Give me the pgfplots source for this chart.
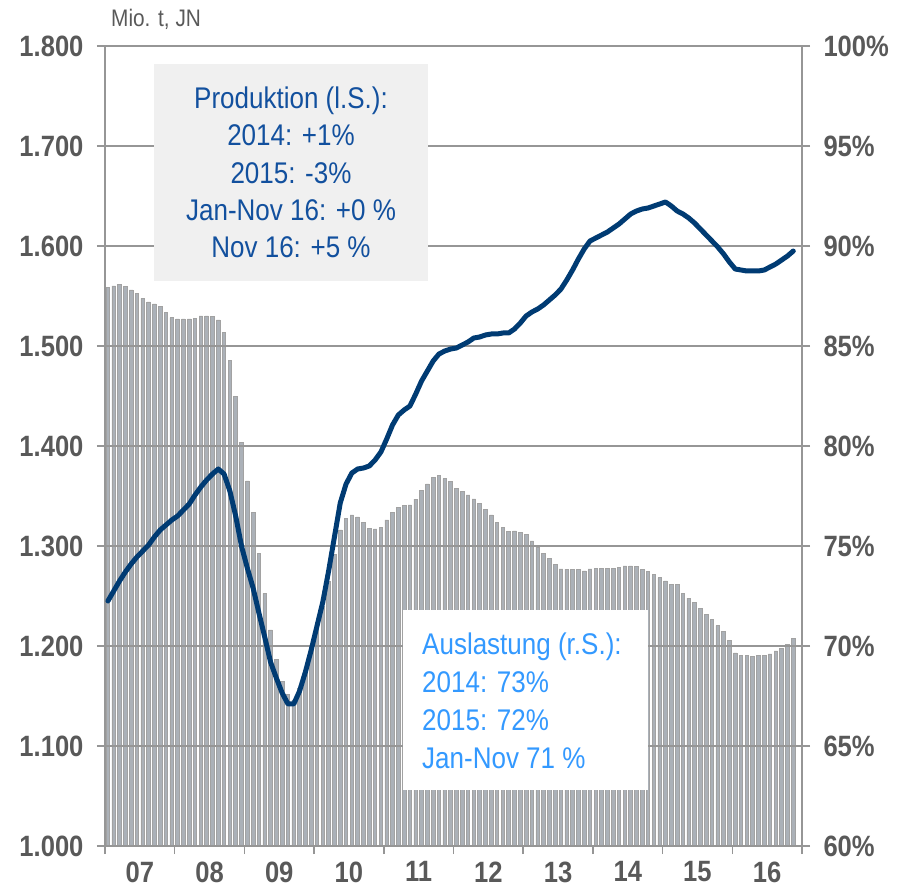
\documentclass[border=0pt]{standalone}
\usepackage{pgfplots}
\pgfplotsset{compat=1.18}
\usepackage{pgfplotstable}
\usepackage{fontspec}
\setmainfont{Liberation Sans}[FakeStretch=0.87]
\definecolor{prodline}{HTML}{003B73}
\definecolor{barfill}{HTML}{ABB1B8}
\definecolor{baredge}{HTML}{A2A2A2}
\definecolor{gridc}{HTML}{969696}
\definecolor{labc}{HTML}{595959}
\definecolor{boxone}{HTML}{F0F0F0}
\definecolor{txtone}{HTML}{12509E}
\definecolor{txttwo}{HTML}{3399FF}

\pgfplotstableread{
i util prod
0 87.93 1245
1 88.00 1255
2 88.07 1265
3 87.98 1274
4 87.80 1282
5 87.63 1289
6 87.38 1295
7 87.20 1301
8 87.10 1309
9 86.97 1316
10 86.67 1321
11 86.42 1326
12 86.35 1330
13 86.35 1336
14 86.35 1342
15 86.38 1351
16 86.50 1359
17 86.50 1366
18 86.47 1372
19 86.30 1377
20 85.67 1372
21 84.27 1355
22 82.47 1330
23 80.17 1300
24 78.25 1278
25 76.67 1258
26 74.63 1233
27 72.63 1209
28 70.80 1184
29 69.33 1168
30 68.22 1153
31 67.58 1142
32 67.30 1142
33 67.90 1155
34 68.80 1174
35 70.00 1196
36 71.17 1220
37 71.96 1244
38 73.22 1275
39 74.59 1309
40 75.80 1343
41 76.39 1362
42 76.55 1373
43 76.45 1377
44 76.17 1378
45 75.89 1380
46 75.85 1386
47 75.92 1394
48 76.30 1407
49 76.69 1421
50 76.92 1431
51 77.02 1436
52 77.05 1440
53 77.34 1452
54 77.77 1465
55 78.10 1475
56 78.44 1485
57 78.54 1492
58 78.37 1495
59 78.22 1497
60 77.89 1498
61 77.74 1501
62 77.55 1504
63 77.35 1508
64 77.12 1509
65 76.84 1511
66 76.55 1512
67 76.19 1512
68 75.94 1513
69 75.72 1513
70 75.75 1517
71 75.67 1523
72 75.59 1530
73 75.25 1534
74 74.94 1537
75 74.64 1541
76 74.37 1546
77 74.09 1551
78 73.85 1557
79 73.84 1566
80 73.84 1576
81 73.84 1587
82 73.75 1597
83 73.85 1605
84 73.89 1608
85 73.89 1611
86 73.89 1614
87 73.89 1618
88 73.92 1622
89 74.00 1627
90 74.00 1632
91 73.97 1635
92 73.82 1637
93 73.72 1638
94 73.59 1640
95 73.42 1642
96 73.25 1644
97 73.09 1640
98 73.09 1635
99 72.64 1632
100 72.39 1628
101 72.19 1623
102 71.89 1617
103 71.59 1611
104 71.34 1605
105 71.02 1599
106 70.72 1592
107 70.27 1584
108 69.65 1577
109 69.52 1576
110 69.52 1575
111 69.49 1575
112 69.52 1575
113 69.54 1576
114 69.60 1579
115 69.75 1582
116 69.89 1586
117 70.09 1590
118 70.37 1595
}\data

\begin{document}
\begin{tikzpicture}
\path[use as bounding box] (-105bp,-46bp) rectangle (792bp,846bp);
\pgfplotsset{common/.style={
  width=697bp, height=800bp, scale only axis,
  at={(0,0)}, anchor=south west,
  xmin=-0.5, xmax=119.5,
  tick align=outside, major tick length=8bp,
  tick style={draw=gridc, line width=1.6bp},
  axis line style={draw=gridc, line width=2bp},
  ticklabel style={font=\fontsize{29.5}{30}\selectfont\bfseries, text=labc},
  /pgf/number format/assume math mode=true,
}}

\begin{axis}[common,
  axis y line*=right, axis x line=none,
  ymin=60, ymax=100,
  ytick={60,65,70,75,80,85,90,95,100},
  yticklabel={\pgfmathprintnumber{\tick}\%},
  yticklabel style={xshift=10bp},
]
\addplot[ybar, bar width=3.6bp, bar shift=0pt, fill=barfill, draw=baredge, line width=0.8bp]
  table[x=i, y=util]{\data};
\end{axis}

\begin{axis}[common,
  axis y line*=left, axis x line*=bottom,
  ymin=1000, ymax=1800,
  ytick={1000,1100,1200,1300,1400,1500,1600,1700,1800},
  scaled y ticks=false,
  ymajorgrids, grid style={draw=gridc, line width=1.6bp},
  yticklabel style={xshift=-10bp},
  xtick={-0.5,11.5,23.5,35.5,47.5,59.5,71.5,83.5,95.5,107.5,119.5},
  xticklabels={07,08,09,10,11,12,13,14,15,16},
  x tick label as interval,
  xticklabel style={yshift=-4bp},
  /pgf/number format/1000 sep={.},
]
\addplot[draw=prodline, line width=5bp, line join=round, line cap=round]
  table[x=i, y=prod]{\data};
\end{axis}

\node[anchor=base west, font=\fontsize{24}{26}\selectfont, text=labc, inner sep=0pt]
  at (6bp,819bp) {Mio. t, JN};

\node[fill=boxone, minimum width=274bp, minimum height=217bp, inner sep=0pt,
  align=center, text=txtone, font=\fontsize{30}{37.5}\selectfont]
  at (186bp,673.5bp) {Produktion (l.S.):\\2014: +1\%\\2015: -3\%\\Jan-Nov 16: +0 \%\\Nov 16: +5 \%};

\fill[white] (298bp,56bp) rectangle (543bp,236bp);
\node[anchor=west, align=left, text=txttwo, font=\fontsize{30}{38}\selectfont, inner sep=0pt]
  at (317bp,145bp) {Auslastung (r.S.):\\2014: 73\%\\2015: 72\%\\Jan-Nov 71 \%};
\end{tikzpicture}
\end{document}
